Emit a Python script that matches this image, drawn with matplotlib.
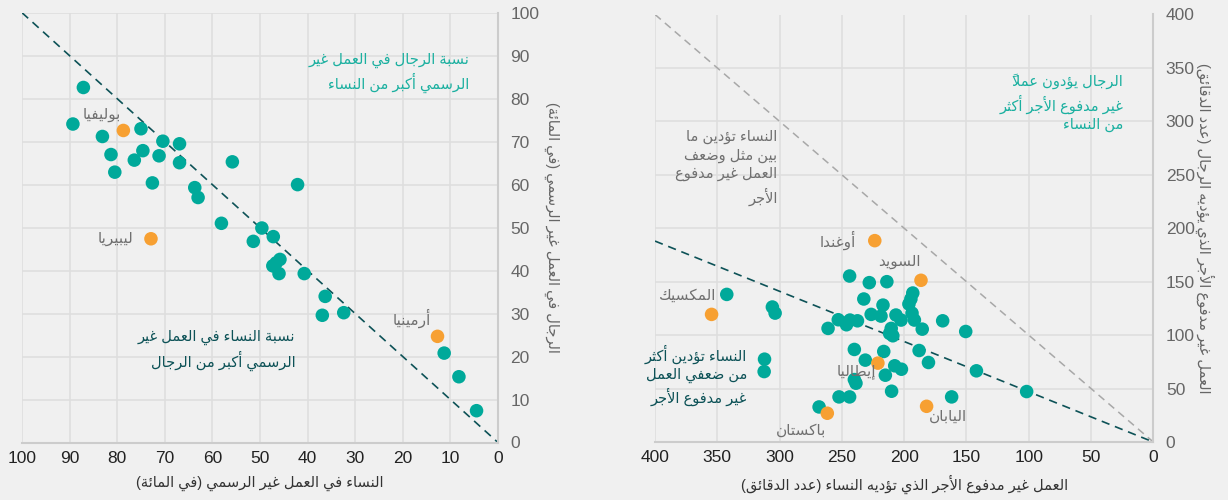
import matplotlib
matplotlib.use("Agg")
import matplotlib.pyplot as plt

# ---------------- data ----------------
# panel 1: informal work (% of workers)
women_informal = [87.1, 89.3, 83.1, 75.0, 70.4, 66.9, 81.3, 74.6, 76.4, 71.2, 66.9, 55.8,
                  80.5, 72.6, 42.1, 63.7, 63.0, 58.1, 49.6, 47.2, 51.4, 45.8, 46.6, 47.3,
                  46.0, 40.7, 36.3, 36.9, 32.4, 11.3, 8.2, 4.5]
men_informal = [82.6, 74.1, 71.2, 73.0, 70.1, 69.5, 67.0, 67.9, 65.7, 66.7, 65.1, 65.3,
                62.9, 60.4, 60.0, 59.3, 57.0, 51.0, 49.9, 47.9, 46.8, 42.6, 41.8, 41.1,
                39.3, 39.3, 34.0, 29.6, 30.2, 20.8, 15.3, 7.4]
hl1_names = ["بوليفيا", "ليبيريا", "أرمينيا"]
hl1_women = [78.7, 72.9, 12.7]
hl1_men = [72.6, 47.4, 24.7]

# panel 2: unpaid work (minutes)
women_unpaid = [243.8, 228.0, 213.9, 342.4, 193.1, 194.6, 232.4, 196.2, 217.0, 305.8, 303.6,
                226.5, 218.6, 206.6, 193.7, 202.5, 191.8, 252.9, 243.5, 237.5, 246.3, 261.1,
                210.4, 185.5, 169.1, 150.6, 211.7, 209.1, 240.0, 216.4, 188.0, 312.1, 231.2,
                180.5, 207.6, 202.2, 312.4, 142.0, 215.1, 240.0, 238.7, 210.1, 101.7, 252.3,
                243.8, 161.9, 268.3]
men_unpaid = [155.3, 149.1, 150.0, 138.1, 139.4, 133.8, 133.8, 129.1, 128.1, 126.3, 120.6,
              119.4, 117.8, 118.8, 120.6, 114.1, 114.1, 114.4, 114.1, 113.4, 109.7, 106.3,
              106.3, 105.6, 113.4, 103.4, 101.6, 99.4, 86.6, 84.7, 85.6, 77.5, 76.6,
              74.4, 71.3, 68.1, 65.9, 66.6, 62.5, 58.4, 55.0, 47.5, 47.2, 42.2,
              42.2, 42.2, 32.8]
hl2_names = ["أوغندا", "السويد", "المكسيك", "إيطاليا", "اليابان", "باكستان"]
hl2_women = [223.6, 186.5, 354.6, 221.1, 182.0, 261.7]
hl2_men = [188.4, 151.3, 119.4, 73.8, 33.4, 26.9]
trend_end = [400, 188]   # end of the fitted (dark) line

TEAL = "#00a99a"
ORANGE = "#f7a032"
DARK = "#0d5257"
BG = "#f0f0f0"
GRID = "#dedede"

# ---------------- arabic shaping (matplotlib has no bidi / joining) ----------------
RIGHT_JOIN = {0x0622: 0xFE81, 0x0623: 0xFE83, 0x0624: 0xFE85, 0x0625: 0xFE87, 0x0627: 0xFE8D,
              0x0629: 0xFE93, 0x062F: 0xFEA9, 0x0630: 0xFEAB, 0x0631: 0xFEAD, 0x0632: 0xFEAF,
              0x0648: 0xFEED, 0x0649: 0xFEEF}
DUAL_JOIN = {0x0626: 0xFE89, 0x0628: 0xFE8F, 0x062A: 0xFE95, 0x062B: 0xFE99, 0x062C: 0xFE9D,
             0x062D: 0xFEA1, 0x062E: 0xFEA5, 0x0633: 0xFEB1, 0x0634: 0xFEB5, 0x0635: 0xFEB9,
             0x0636: 0xFEBD, 0x0637: 0xFEC1, 0x0638: 0xFEC5, 0x0639: 0xFEC9, 0x063A: 0xFECD,
             0x0641: 0xFED1, 0x0642: 0xFED5, 0x0643: 0xFED9, 0x0644: 0xFEDD, 0x0645: 0xFEE1,
             0x0646: 0xFEE5, 0x0647: 0xFEE9, 0x064A: 0xFEF1}
LAM_ALEF = {0x0622: 0xFEF5, 0x0623: 0xFEF7, 0x0625: 0xFEF9, 0x0627: 0xFEFB}
MIRROR = {"(": ")", ")": "("}


def is_mark(c):
    return 0x064B <= ord(c) <= 0x0652


def shape_line(s):
    # tokens: [kind, code, marks]
    toks = []
    i = 0
    while i < len(s):
        c = s[i]
        if is_mark(c) and toks:
            toks[-1][2].append(c)
            i += 1
            continue
        if ord(c) == 0x0644 and i + 1 < len(s) and ord(s[i + 1]) in LAM_ALEF:
            toks.append(["LA", ord(s[i + 1]), []])
            i += 2
            continue
        o = ord(c)
        if o in DUAL_JOIN:
            toks.append(["D", o, []])
        elif o in RIGHT_JOIN:
            toks.append(["R", o, []])
        elif o == 0x0621:
            toks.append(["N", 0xFE80, []])
        else:
            toks.append(["X", o, []])
        i += 1
    out = []
    for k, (kind, o, marks) in enumerate(toks):
        prev = toks[k - 1][0] if k > 0 else None
        nxt = toks[k + 1][0] if k + 1 < len(toks) else None
        jp = prev == "D" and kind in ("D", "R", "LA")
        jn = kind == "D" and nxt in ("D", "R", "LA")
        if kind == "D":
            g = DUAL_JOIN[o] + (3 if jp and jn else 1 if jp else 2 if jn else 0)
        elif kind == "R":
            g = RIGHT_JOIN[o] + (1 if jp else 0)
        elif kind == "LA":
            g = LAM_ALEF[o] + (1 if jp else 0)
        else:
            g = o
        ch = chr(g)
        ch = MIRROR.get(ch, ch)
        # marks go first so they are drawn over the base glyph
        out.append("".join(marks) + ch)
    return "".join(reversed(out))


def ar(s):
    return "\n".join(shape_line(line) for line in s.split("\n"))


plt.rcParams["font.family"] = ["Liberation Sans", "DejaVu Sans"]

fig = plt.figure(figsize=(12.28, 5.0), dpi=100, facecolor=BG)
ax1 = fig.add_axes([0.0179, 0.115, 0.3876, 0.8596])
ax2 = fig.add_axes([0.5334, 0.116, 0.4058, 0.855])


def style(ax, xmax, step, ylabel, xlabel):
    ax.set_facecolor(BG)
    ax.set_xlim(xmax, 0)
    ax.set_ylim(0, xmax)
    ax.set_xticks(range(0, xmax + 1, step))
    ax.set_yticks(range(0, xmax + 1, step))
    ax.grid(True, color=GRID, lw=1.2, zorder=0)
    ax.set_axisbelow(True)
    for s in ["top", "left"]:
        ax.spines[s].set_visible(False)
    for s in ["bottom", "right"]:
        ax.spines[s].set_color("#cccccc")
        ax.spines[s].set_linewidth(1.5)
    ax.yaxis.tick_right()
    ax.yaxis.set_label_position("right")
    ax.tick_params(axis="both", length=0, labelsize=12.5)
    ax.tick_params(axis="x", colors="#222222", pad=6)
    ax.tick_params(axis="y", colors="#666666", pad=9)
    ax.set_xlabel(ar(xlabel), fontsize=10.5, color="#333333", labelpad=7)
    ax.set_ylabel(ar(ylabel), fontsize=10.5, color="#666666", rotation=270, labelpad=14)


# ---------------- panel 1 ----------------
style(ax1, 100, 10, "الرجال في العمل غير الرسمي (في المائة)", "النساء في العمل غير الرسمي (في المائة)")
ax1.plot([100, 0], [100, 0], ls=(0, (5, 3.5)), color=DARK, lw=1.2, zorder=2)
ax1.scatter(women_informal, men_informal, s=95, color=TEAL, edgecolors="none", zorder=3)
ax1.scatter(hl1_women, hl1_men, s=95, color=ORANGE, edgecolors="none", zorder=3)
lab_pos1 = [(79.1, 76.3), (76.6, 47.4), (14.0, 28.8)]
for name, (x, y) in zip(hl1_names, lab_pos1):
    ax1.text(x, y, ar(name), ha="right", va="center", fontsize=11, color="#707070")
ax1.text(6, 86, ar("نسبة الرجال في العمل غير\nالرسمي أكبر من النساء"), ha="right", va="center",
         ma="right", fontsize=10.5, color="#1bb0a0", linespacing=1.35)
ax1.text(42.6, 21.5, ar("نسبة النساء في العمل غير\nالرسمي أكبر من الرجال"), ha="right", va="center",
         ma="right", fontsize=10.5, color=DARK, linespacing=1.35)

# ---------------- panel 2 ----------------
style(ax2, 400, 50, "العمل غير مدفوع الأجر الذي يؤديه الرجال (عدد الدقائق)",
      "العمل غير مدفوع الأجر الذي تؤديه النساء (عدد الدقائق)")
ax2.plot([400, 0], [400, 0], ls=(0, (5, 3.5)), color="#a8a8a8", lw=1.1, zorder=2)
ax2.plot([trend_end[0], 0], [trend_end[1], 0], ls=(0, (5, 3.5)), color=DARK, lw=1.2, zorder=2)
ax2.scatter(women_unpaid, men_unpaid, s=95, color=TEAL, edgecolors="none", zorder=3)
ax2.scatter(hl2_women, hl2_men, s=95, color=ORANGE, edgecolors="none", zorder=3)
lab_pos2 = [(238.7, 188.5, "right"), (203.8, 168.4, "center"), (350.6, 137.2, "right"),
            (238.7, 65.9, "center"), (164.7, 23.8, "center"), (282.5, 10.3, "center")]
for name, (x, y, ha) in zip(hl2_names, lab_pos2):
    ax2.text(x, y, ar(name), ha=ha, va="center", fontsize=11, color="#707070")
ax2.text(24.2, 317.5, ar("الرجال يؤدون عملاً\nغير مدفوع الأجر أكثر\nمن النساء"), ha="right",
         va="center", ma="right", fontsize=10.5, color="#1bb0a0", linespacing=1.35)
ax2.text(301.6, 256.5, ar("النساء تؤدين ما\nبين مثل وضعف\nالعمل غير مدفوع\nالأجر"), ha="right",
         va="center", ma="right", fontsize=10.5, color="#707070", linespacing=1.4)
ax2.text(326, 62.5, ar("النساء تؤدين أكثر\nمن ضعفي العمل\nغير مدفوع الأجر"), ha="right",
         va="center", ma="right", fontsize=10.5, color=DARK, linespacing=1.35)

fig.savefig("out.png", dpi=100, facecolor=BG)
